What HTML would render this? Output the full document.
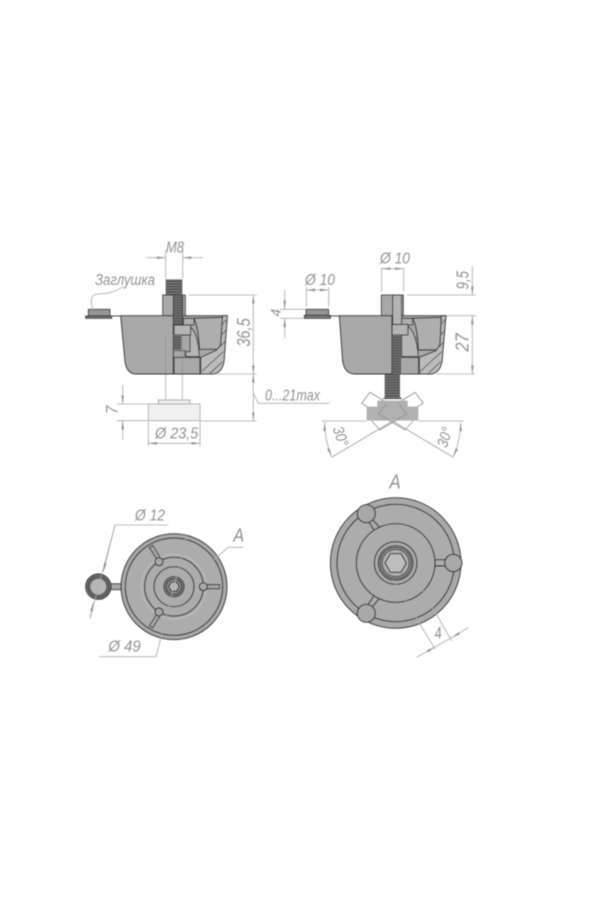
<!DOCTYPE html>
<html><head><meta charset="utf-8"><style>
html,body{margin:0;padding:0;background:#fff;width:600px;height:900px;overflow:hidden}
svg{display:block;filter:blur(.4px)}
text{font-family:"Liberation Sans",sans-serif;font-style:italic;fill:#929292}
.d{stroke:#adadad;stroke-width:2.6;fill:none}
.a{marker-start:url(#ar);marker-end:url(#ar)}
.e{marker-end:url(#ar)}
.k{stroke:#383838;stroke-width:2.8;fill:none}
.f{fill:#a8a8a8;stroke:#383838;stroke-width:2.8}
.t{stroke:#505050;stroke-width:2.2;fill:none}
</style></head><body>
<svg width="600" height="900" viewBox="0 0 600 900" xmlns="http://www.w3.org/2000/svg">
<defs>
<marker id="ar" viewBox="0 0 26 10" refX="26" refY="5" markerWidth="26" markerHeight="10" markerUnits="userSpaceOnUse" orient="auto-start-reverse"><path d="M0,1 L26,5 L0,9Z" fill="#959595"/></marker>
<pattern id="th" width="10" height="8" patternUnits="userSpaceOnUse"><rect width="10" height="8" fill="#7c7c7c"/><rect width="10" height="3.5" fill="#444"/></pattern>
</defs>

<!-- VIEW 1 -->
<g transform="translate(70,230) scale(.33333)">
  <path class="f" d="M152,257 L472,257 L462,395 Q455,432 425,432 L200,432 Q170,432 165,395 Z"/>
  <path d="M372,265 Q385,290 388,358 L442,358 L452,345 L458,262Z" fill="#aeaeae" stroke="#383838" stroke-width="2.8"/>
  <path d="M458,257L472,257L462,395Q455,432 425,432L392,432L392,382L440,360L452,345Z" fill="#bcbcbc" stroke="#383838" stroke-width="2.4"/>
  <path class="t" d="M395,425L460,365M420,430L458,395M450,350L465,335M452,318L468,300M455,285L470,268M362,378L390,352M365,345L386,325"/>
  <rect x="312" y="382" width="78" height="50" fill="#a8a8a8" class="k"/>
  <path d="M310,257V432M338,285H360V315H338" class="k" fill="none"/>
  <path d="M340,265H372V285H340Z" fill="#b0b0b0" stroke="#383838" stroke-width="2.4"/>
  <path d="M360,290Q385,310 388,380H350L345,365H360Z" fill="#b6b6b6" stroke="#383838" stroke-width="2.4"/>
  <rect x="312" y="285" width="50" height="30" fill="#b4b4b4" stroke="#383838" stroke-width="2.4"/>
  <rect x="312" y="315" width="22" height="45" fill="url(#th)"/>
  <path class="t" d="M312,362H345V382H312"/>
  <rect x="278" y="195" width="32" height="62" fill="#a8a8a8" stroke="#383838" stroke-width="2.4"/>
  <rect x="338" y="195" width="8" height="62" fill="#a8a8a8" stroke="#383838" stroke-width="2.4"/>
  <rect x="310" y="195" width="28" height="90" fill="url(#th)" stroke="#383838" stroke-width="2"/>
  <rect x="287" y="148" width="50" height="47" fill="url(#th)"/>
  <path d="M287,318V510M337,318V510" stroke="#8f8f8f" stroke-width="3" stroke-dasharray="3 2" fill="none"/>
  <path d="M287,318H310" stroke="#aaa" stroke-width="2.5"/>
  <rect x="265" y="510" width="95" height="12" fill="#efefef" stroke="#999" stroke-width="2.4"/>
  <rect x="235" y="522" width="155" height="50" fill="#f0f0f0" stroke="#a5a5a5" stroke-width="2.4"/>
  <rect x="55" y="238" width="65" height="20" fill="#959595" stroke="#383838" stroke-width="2.4"/>
  <rect x="47" y="258" width="78" height="7" fill="#808080" stroke="#2c2c2c" stroke-width="2.4"/>
  <path class="k" d="M125,258H152"/>
  <path class="d" d="M287,145V60M338,145V60"/>
  <path class="d e" d="M228,83H287"/><path class="d e" d="M398,83H338"/>
  <path class="d" d="M158,170C110,205 70,180 65,205C60,220 68,230 68,240" stroke-width="2"/>
  <path class="d" d="M355,195H560M440,432H560M390,573H560M140,522H235M140,572H235"/>
  <path class="d a" d="M550,195V432"/><path class="d a" d="M550,432V573"/>
  <path class="d" d="M550,490L565,520H780"/>
  <path class="d e" d="M158,465V522"/><path class="d e" d="M158,630V572"/>
  <path class="d" d="M235,575V648M390,575V648"/>
  <path class="d a" d="M235,640H390"/>
  <text x="288" y="68" font-size="46" textLength="54" lengthAdjust="spacingAndGlyphs">M8</text>
  <text x="75" y="165" font-size="46" textLength="180" lengthAdjust="spacingAndGlyphs">Заглушка</text>
  <text transform="translate(540,350) rotate(-90)" font-size="55" textLength="85" lengthAdjust="spacingAndGlyphs">36,5</text>
  <text x="585" y="512" font-size="46" textLength="165" lengthAdjust="spacingAndGlyphs">0...21max</text>
  <text transform="translate(143,552) rotate(-90)" font-size="50" textLength="25" lengthAdjust="spacingAndGlyphs">7</text>
  <text x="255" y="625" font-size="48" textLength="130" lengthAdjust="spacingAndGlyphs">Ø 23,5</text>
</g>

<!-- VIEW 2 -->
<g transform="translate(270,230) scale(.33333)">
  <path class="f" d="M208,257 L528,257 L516,395 Q508,432 480,432 L255,432 Q225,432 218,395 Z"/>
  <path d="M428,265Q442,290 445,360L500,360L510,345L514,262Z" fill="#aeaeae" stroke="#383838" stroke-width="2.8"/>
  <path d="M514,257L528,257L516,395Q508,432 480,432L448,432L448,382L498,362L510,345Z" fill="#bcbcbc" stroke="#383838" stroke-width="2.4"/>
  <path class="t" d="M450,425L515,365M475,430L512,395M508,350L522,335M510,318L525,300M512,285L526,268M420,378L445,352M422,345L442,322"/>
  <path d="M392,382H446V432H392Z" fill="#a8a8a8" stroke="#383838" stroke-width="2.4"/>
  <path d="M415,290Q440,310 445,380H395V290Z" fill="#b6b6b6" stroke="#383838" stroke-width="2.4"/>
  <path d="M395,265H428V285H395Z" fill="#b0b0b0" stroke="#383838" stroke-width="2.4"/>
  <rect x="366" y="283" width="48" height="32" fill="#b4b4b4" stroke="#383838" stroke-width="2.4"/>
  <path class="k" d="M366,257V432H344"/>
  <rect x="334" y="195" width="66" height="62" fill="#a8a8a8" stroke="#383838" stroke-width="2.4"/>
  <rect x="368" y="195" width="27" height="88" fill="#b4b4b4" stroke="#383838" stroke-width="2.4"/>
  <rect x="368" y="315" width="25" height="117" fill="url(#th)"/>
  <rect x="344" y="432" width="46" height="75" fill="url(#th)"/>
  <path d="M275,520L300,487L345,515L322,548ZM460,520L435,487L390,515L413,548Z" fill="#fff" stroke="#777" stroke-width="2.2"/>
  <path d="M322,512H413V530H445V572H290V530H322Z" fill="#b0b0b0"/>
  <path d="M305,572L330,600L410,552L385,520M430,572L405,600L325,552L350,520" fill="none" stroke="#909090" stroke-width="2.2"/>
  <path d="M340,505H395" stroke="#505050" stroke-width="4"/>
  <rect x="108" y="238" width="68" height="18" fill="#959595" stroke="#383838" stroke-width="2.4"/>
  <rect x="103" y="256" width="78" height="9" fill="#808080" stroke="#2c2c2c" stroke-width="2.4"/>
  <path class="k" d="M181,258H208"/>
  <path class="d" d="M109,230V172M176,230V172M335,185V112M401,185V112"/>
  <path class="d a" d="M109,180H176"/><path class="d a" d="M335,116H401"/>
  <path class="d" d="M30,238H108M30,265H103"/>
  <path class="d e" d="M44,180V238"/><path class="d e" d="M44,325V265"/>
  <path class="d" d="M410,195H618M530,257H618M500,432H615"/>
  <path class="d e" d="M607,108V195"/>
  <path class="d a" d="M607,257V432"/>
  <path d="M155,573H290M445,573H582" class="d"/>
  <path d="M185,682L368,573L550,682" stroke="#8f8f8f" stroke-width="2.2" fill="none"/>
  <path class="d a" d="M164,577Q164,630 185,680"/>
  <path class="d a" d="M572,577Q572,630 550,680"/>
  <text x="105" y="165" font-size="48" textLength="90" lengthAdjust="spacingAndGlyphs">Ø 10</text>
  <text x="330" y="100" font-size="48" textLength="90" lengthAdjust="spacingAndGlyphs">Ø 10</text>
  <text transform="translate(32,260) rotate(-90)" font-size="42">4</text>
  <text transform="translate(596,178) rotate(-90)" font-size="52" textLength="55" lengthAdjust="spacingAndGlyphs">9,5</text>
  <text transform="translate(596,365) rotate(-90)" font-size="55" textLength="55" lengthAdjust="spacingAndGlyphs">27</text>
  <text transform="translate(188,595) rotate(72)" font-size="46" textLength="60" lengthAdjust="spacingAndGlyphs">30°</text>
  <text transform="translate(530,655) rotate(-72)" font-size="46" textLength="60" lengthAdjust="spacingAndGlyphs">30°</text>
</g>

<!-- VIEW 3 -->
<g transform="translate(70,490) scale(.33333)">
  <path d="M120,281H160V299H120Z" fill="#a8a8a8" stroke="#383838" stroke-width="2.4"/>
  <circle cx="312" cy="290" r="159" class="f"/>
  <circle cx="312" cy="290" r="146" fill="#acacac" stroke="#383838" stroke-width="2.8"/>
  <circle cx="312" cy="290" r="97" fill="none" stroke="#c4c4c4" stroke-width="2.5"/>
  <circle cx="312" cy="290" r="88" class="k"/>
  <circle cx="312" cy="290" r="60" class="k"/>
  <path d="M400,284H449V296H400ZM262,210L238,172L248,166L272,205ZM262,370L238,408L248,414L272,375Z" fill="#a8a8a8" stroke="#383838" stroke-width="2.4"/>
  <circle cx="400" cy="290" r="12" class="f"/>
  <circle cx="267" cy="215" r="12" class="f"/>
  <circle cx="267" cy="366" r="12" class="f"/>
  <circle cx="312" cy="290" r="30" fill="#9a9a9a" stroke="#2c2c2c" stroke-width="2.8"/>
  <circle cx="312" cy="290" r="24" fill="#8a8a8a" stroke="#2c2c2c" stroke-width="2.8"/>
  <path d="M328,290L320,304H304L296,290L304,276H320Z" fill="#b6b6b6" stroke="#2c2c2c" stroke-width="2.4"/>
  <circle cx="85" cy="290" r="38" fill="#7c7c7c" stroke="#2c2c2c" stroke-width="2.8"/>
  <circle cx="85" cy="290" r="31" fill="#a2a2a2" stroke="#2c2c2c" stroke-width="2.8"/>
  <circle cx="85" cy="290" r="26" fill="#b6b6b6" stroke="#383838" stroke-width="2.8"/>
  <path class="d" d="M295,105H135L60,385"/>
  <path d="M135,105L100,245" class="d e"/>
  <path d="M60,385L70,338" class="d e"/>
  <path class="d" d="M88,500H258L350,140"/>
  <path class="d" d="M520,172H475L395,240"/>
  <text x="195" y="92" font-size="46" textLength="90" lengthAdjust="spacingAndGlyphs">Ø 12</text>
  <text x="115" y="485" font-size="46" textLength="97" lengthAdjust="spacingAndGlyphs">Ø 49</text>
  <text x="490" y="155" font-size="55" textLength="32" lengthAdjust="spacingAndGlyphs">A</text>
</g>

<!-- VIEW 4 -->
<g transform="translate(320,465) scale(.33333)">
  <circle cx="227" cy="294" r="196" fill="#a9a9a9" stroke="#383838" stroke-width="2.8"/>
  <circle cx="227" cy="294" r="176" fill="#acacac" stroke="#383838" stroke-width="2.8"/>
  <path d="M345,284H385V303H345ZM143,165L155,160L178,187L163,197ZM143,420L155,428L178,400L163,392Z" fill="#acacac" stroke="#383838" stroke-width="2.8"/>
  <circle cx="227" cy="294" r="118" fill="#acacac" stroke="#383838" stroke-width="2.8"/>
  <circle cx="139" cy="146" r="27" class="f"/>
  <circle cx="139" cy="445" r="27" class="f"/>
  <circle cx="400" cy="294" r="26" class="f"/>
  <circle cx="227" cy="294" r="64" fill="none" stroke="#383838" stroke-width="2.8"/>
  <circle cx="227" cy="294" r="52" fill="none" stroke="#383838" stroke-width="2.8"/>
  <circle cx="227" cy="294" r="47" fill="none" stroke="#383838" stroke-width="2.8"/>
  <circle cx="227" cy="294" r="41" fill="#b0b0b0" stroke="#383838" stroke-width="2.8"/>
  <path d="M259,294L243,322H211L195,294L211,266H243Z" fill="#bdbdbd" stroke="#383838" stroke-width="2.8"/>
  <path class="d" d="M220,345L345,552M285,335L395,528"/>
  <path class="d" d="M345,546L395,518"/>
  <path d="M290,577L345,546" class="d e"/>
  <path d="M445,488L395,518" class="d e"/>
  <text transform="translate(345,522) rotate(-6)" font-size="50" textLength="22" lengthAdjust="spacingAndGlyphs">4</text>
  <text x="208" y="71" font-size="62" textLength="34" lengthAdjust="spacingAndGlyphs">A</text>
</g>
</svg>
</body></html>
